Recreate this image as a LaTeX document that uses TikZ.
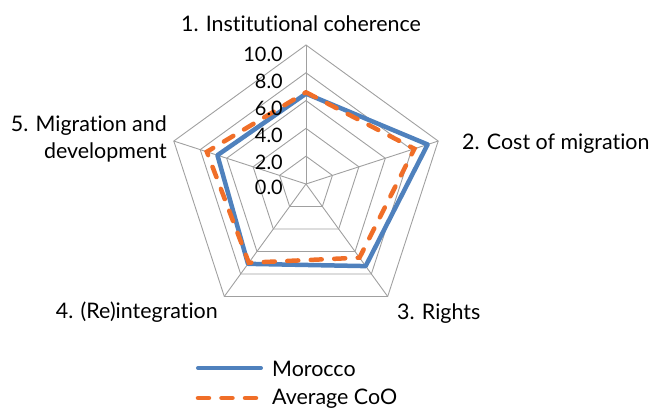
\documentclass[tikz,border=0pt]{standalone}
\usepackage{fontspec}
\setmainfont[Ligatures=NoCommon]{Lato}
\definecolor{moroccoblue}{RGB}{79,129,189}
\definecolor{cooorange}{RGB}{240,110,40}
\definecolor{gridgray}{RGB}{160,160,160}
\tikzset{
  gridline/.style={draw=gridgray, line width=0.9bp},
  morocco/.style={draw=moroccoblue, line width=4.5bp, line join=round},
  average/.style={draw=cooorange, line width=4.5bp, line cap=round, dash pattern=on 11bp off 12.5bp},
  axislabel/.style={inner sep=0pt, font=\fontsize{21.5}{27}\selectfont},
  ticklabel/.style={inner sep=0pt, anchor=east, font=\fontsize{20}{24}\selectfont}
}
\begin{document}
\begin{tikzpicture}[x=1bp, y=1bp]
	\useasboundingbox (-306,-225) rectangle (347,184);

	\begin{scope}[x=13.9bp, y=13.9bp]
		% Draw the pentagons of the grid
		\draw[gridline] (90:2) -- (18:2) -- (-54:2) -- (-126:2) -- (162:2) -- cycle;
		\draw[gridline] (90:4) -- (18:4) -- (-54:4) -- (-126:4) -- (162:4) -- cycle;
		\draw[gridline] (90:6) -- (18:6) -- (-54:6) -- (-126:6) -- (162:6) -- cycle;
		\draw[gridline] (90:8) -- (18:8) -- (-54:8) -- (-126:8) -- (162:8) -- cycle;
		\draw[gridline] (90:10) -- (18:10) -- (-54:10) -- (-126:10) -- (162:10) -- cycle;

		% Draw the spokes
		\draw[gridline] (0,0) -- (90:10);
		\draw[gridline] (0,0) -- (18:10);
		\draw[gridline] (0,0) -- (-54:10);
		\draw[gridline] (0,0) -- (-126:10);
		\draw[gridline] (0,0) -- (162:10);

		% Draw the two series
		\draw[morocco] (90:6.5) -- (18:9.2) -- (-54:7.3) -- (-126:7.1) -- (162:6.7) -- cycle;
		\draw[average] (90:6.6) -- (18:8.2) -- (-54:6.55) -- (-126:7.0) -- (162:7.5) -- cycle;
	\end{scope}

	\node[ticklabel] (t10) at (-23, 129.5) {10.0};
	\node[ticklabel] (t8) at (-23, 102.3) {8.0};
	\node[ticklabel] (t6) at (-23, 75.7) {6.0};
	\node[ticklabel] (t4) at (-23, 49) {4.0};
	\node[ticklabel] (t2) at (-23, 21.3) {2.0};
	\node[ticklabel] (t0) at (-23, -3.7) {0.0};

	\node[axislabel] (coherence) at (-5, 160) {1. Institutional coherence};
	\node[axislabel, anchor=west] (cost) at (156, 40) {2. Cost of migration};
	\node[axislabel, anchor=west] (rights) at (91, -129.7) {3. Rights};
	\node[axislabel, anchor=east] (reintegration) at (-88, -128) {4. (Re)integration};
	\node[axislabel, anchor=east, align=right] (development) at (-139, 45) {5. Migration and\\development};

	% Legend
	\coordinate (mA) at (-108, -184);
	\coordinate (mB) at (-45, -184);
	\coordinate (aA) at (-108, -214);
	\coordinate (aB) at (-45, -214);
	\draw[morocco, line cap=round, line width=4bp] (mA) -- (mB);
	\draw[average] (aA) -- (aB);
	\node[axislabel, anchor=west] (lgmorocco) at (-34, -184.5) {Morocco};
	\node[axislabel, anchor=west] (lgaverage) at (-34, -215) {Average CoO};

\end{tikzpicture}
\end{document}
